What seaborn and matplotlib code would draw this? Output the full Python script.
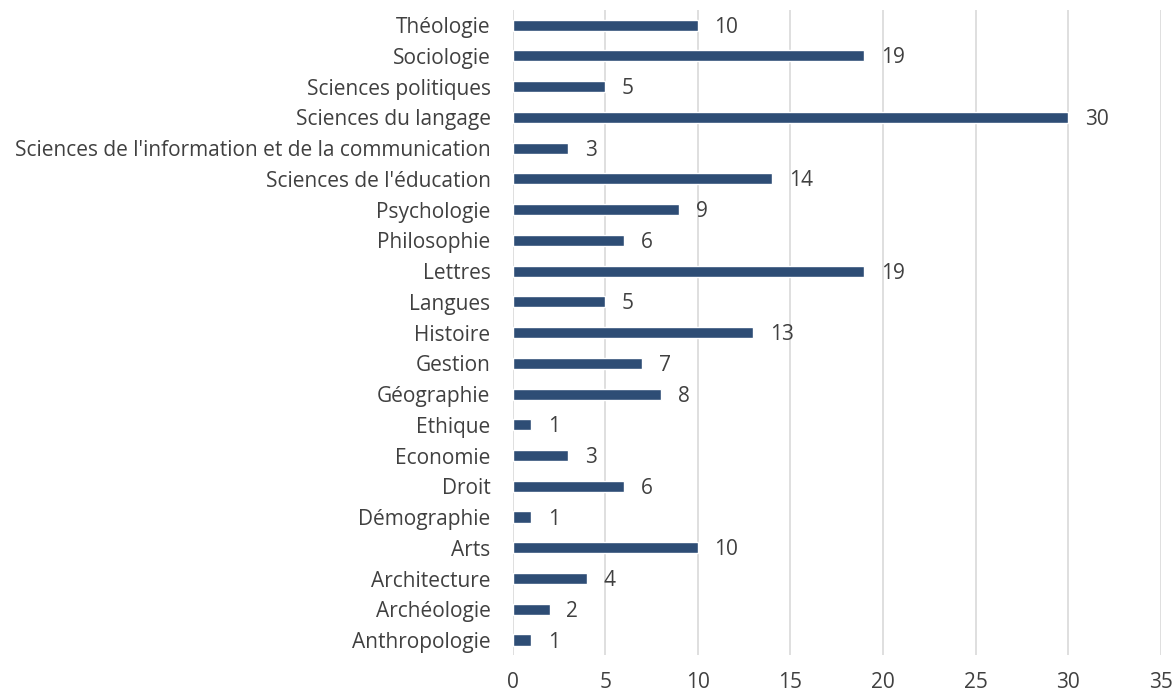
import matplotlib
matplotlib.use('Agg')
import matplotlib.pyplot as plt
import seaborn as sns
import pandas as pd

# ─── Data ─────────────────────────────────────────────────────────────────────
disciplines = ['Théologie', 'Sociologie', 'Sciences politiques', 'Sciences du langage',
               "Sciences de l'information et de la communication", "Sciences de l'éducation",
               'Psychologie', 'Philosophie', 'Lettres', 'Langues', 'Histoire', 'Gestion',
               'Géographie', 'Ethique', 'Economie', 'Droit', 'Démographie', 'Arts',
               'Architecture', 'Archéologie', 'Anthropologie']
counts = [10, 19, 5, 30, 3, 14, 9, 6, 19, 5, 13, 7, 8, 1, 3, 6, 1, 10, 4, 2, 1]
x_ticks = [0, 5, 10, 15, 20, 25, 30, 35]

df = pd.DataFrame({'discipline': disciplines, 'count': counts})

# ─── Style ────────────────────────────────────────────────────────────────────
sns.set_theme(style='white')
plt.rcParams['font.family'] = ['Open Sans', 'DejaVu Sans']
text_col = '#404040'
fs = 15

fig = plt.figure(figsize=(11.76, 6.95), dpi=100)
ax = fig.add_axes([0.436, 0.057, 0.551, 0.929])

sns.barplot(data=df, x='count', y='discipline', color='#2E4D75', width=0.36,
            saturation=1, ax=ax, zorder=3)

for i, v in enumerate(counts):
    ax.annotate(str(v), xy=(v, i), xytext=(12, -1.5), textcoords='offset points',
                va='center', ha='left', fontsize=fs, color=text_col)

ax.set_xlim(0, 35)
ax.set_ylim(len(disciplines) - 0.5, -0.5)
ax.set_xticks(x_ticks)
ax.xaxis.grid(True, color='#D9D9D9', linewidth=1.2, zorder=0)
ax.yaxis.grid(False)
for s in ax.spines.values():
    s.set_visible(False)
ax.tick_params(axis='both', length=0, labelsize=fs, labelcolor=text_col)
ax.tick_params(axis='x', pad=12)
ax.tick_params(axis='y', pad=16)
ax.set_xlabel('')
ax.set_ylabel('')

fig.savefig('out.png', dpi=100)
